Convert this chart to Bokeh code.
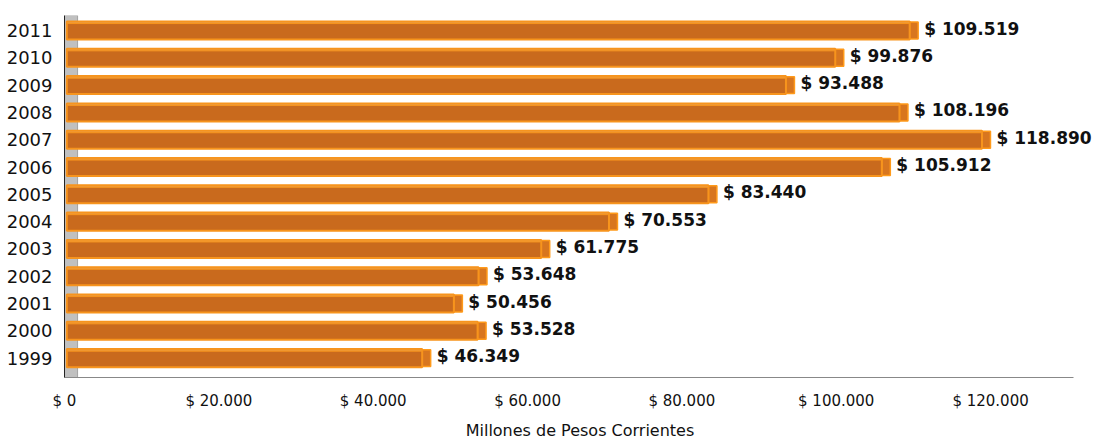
from bokeh.plotting import figure
from bokeh.models import Range1d, FixedTicker, BoxAnnotation, ColumnDataSource, LabelSet
from bokeh.core.properties import value
from bokeh.embed import file_html
from bokeh.resources import INLINE

years = ["1999", "2000", "2001", "2002", "2003", "2004", "2005", "2006", "2007", "2008", "2009", "2010", "2011"]
values = [46349, 53528, 50456, 53648, 61775, 70553, 83440, 105912, 118890, 108196, 93488, 99876, 109519]
value_labels = ["$ 46.349", "$ 53.528", "$ 50.456", "$ 53.648", "$ 61.775", "$ 70.553", "$ 83.440",
                "$ 105.912", "$ 118.890", "$ 108.196", "$ 93.488", "$ 99.876", "$ 109.519"]
x_ticks = [0, 20000, 40000, 60000, 80000, 100000, 120000]
x_tick_labels = ["$ 0", "$ 20.000", "$ 40.000", "$ 60.000", "$ 80.000", "$ 100.000", "$ 120.000"]

pos = list(range(len(years)))
DEPTH = 1100  # visual depth of the 3D bar end cap (style)
src = ColumnDataSource(dict(y=pos, v=values, lab=value_labels,
                            vend=[v + DEPTH for v in values],
                            ytop=[p + 0.29 for p in pos]))

p = figure(width=1099, height=442, output_backend="svg", toolbar_location=None,
           x_range=Range1d(0, 133600), y_range=Range1d(-0.71, 12.55),
           min_border_left=64, min_border_right=4, min_border_top=15, min_border_bottom=54)
p.outline_line_color = None
p.xgrid.visible = False
p.ygrid.visible = False

# 3D back wall
p.add_layout(BoxAnnotation(left=0, right=1700, fill_color="#c0c0c0", fill_alpha=1.0,
                           line_color="#222222", line_width=1, level="underlay"))

# side face (end cap) of the 3D bars
p.hbar(y="y", left="v", right="vend", height=0.62, source=src,
       fill_color="#D8761F", line_color="#FF9A1A", line_width=1.5)
p.hbar(y="y", right="v", left=300, height=0.66, source=src,
       fill_color="#C96A1D", line_color="#F7941D", line_width=2)
p.hbar(y="ytop", right="v", left=300, height=0.07, source=src,
       fill_color="#EE9A3A", line_color="#F7941D", line_width=1)

labels = LabelSet(x="vend", y="y", text="lab", source=src, x_offset=6, y_offset=2,
                  text_font=value("DejaVu Sans"), text_font_style="bold",
                  text_font_size="17px", text_color="#111111", text_baseline="middle")
p.add_layout(labels)

p.xaxis.ticker = FixedTicker(ticks=x_ticks)
p.xaxis.bounds = (0, 130750)
p.xaxis.major_label_overrides = {t: l for t, l in zip(x_ticks, x_tick_labels)}
p.xaxis.axis_line_color = "#888888"
p.xaxis.major_tick_line_color = None
p.xaxis.minor_tick_line_color = None
p.xaxis.major_label_text_font = "DejaVu Sans"
p.xaxis.major_label_text_font_size = "15px"
p.xaxis.major_label_text_color = "#111111"
p.xaxis.major_label_standoff = 8
p.xaxis.axis_label = "Millones de Pesos Corrientes"
p.xaxis.axis_label_text_font = "DejaVu Sans"
p.xaxis.axis_label_text_font_style = "normal"
p.xaxis.axis_label_text_font_size = "16px"
p.xaxis.axis_label_text_color = "#111111"
p.xaxis.axis_label_standoff = 8

p.yaxis.ticker = FixedTicker(ticks=pos)
p.yaxis.major_label_overrides = {i: y for i, y in enumerate(years)}
p.yaxis.axis_line_color = "#222222"
p.yaxis.major_tick_line_color = None
p.yaxis.minor_tick_line_color = None
p.yaxis.major_label_text_font = "DejaVu Sans"
p.yaxis.major_label_text_font_size = "18px"
p.yaxis.major_label_text_color = "#111111"
p.yaxis.major_label_standoff = 6

open("out.html", "w").write(file_html(p, INLINE))
